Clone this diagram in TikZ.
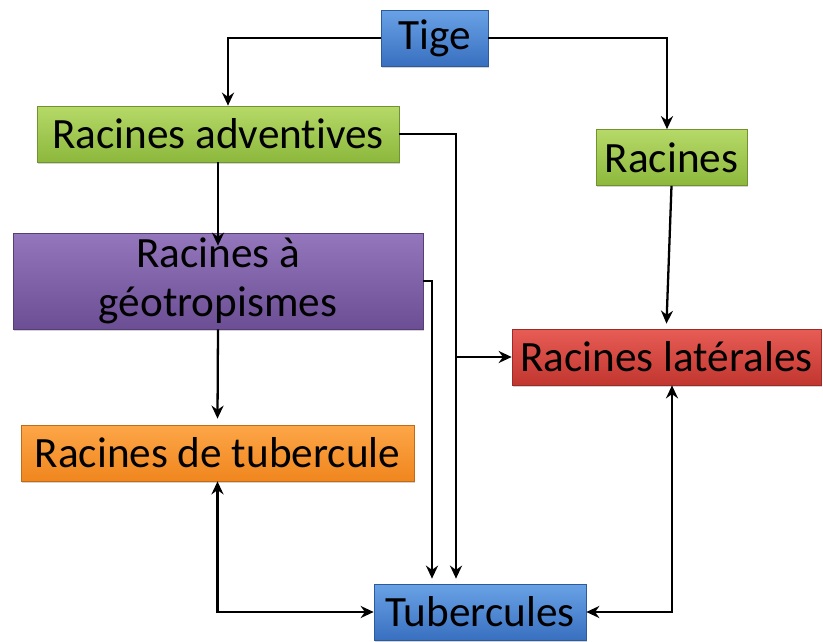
\documentclass[tikz,border=0pt]{standalone}
\usepackage{fontspec}
\setmainfont[Ligatures=NoCommon]{Carlito}
\usepackage{tikz}
\usetikzlibrary{arrows.meta, shadows}
\usepackage{color}

\definecolor{blueTop}{RGB}{106,162,230}
\definecolor{blueBot}{RGB}{56,112,192}
\definecolor{greenTop}{RGB}{182,217,104}
\definecolor{greenBot}{RGB}{140,184,60}
\definecolor{purpleTop}{RGB}{148,118,188}
\definecolor{purpleBot}{RGB}{108,78,148}
\definecolor{redTop}{RGB}{232,92,86}
\definecolor{redBot}{RGB}{194,54,48}
\definecolor{orangeTop}{RGB}{253,166,72}
\definecolor{orangeBot}{RGB}{240,134,30}

\begin{document}
\begin{tikzpicture}[
x=0.02cm, y=-0.02cm,
font=\fontsize{24.6}{28}\selectfont,
box/.style={rectangle, inner sep=0pt, minimum height=1.12cm, align=center, drop shadow={opacity=0.35, shadow xshift=0.6pt, shadow yshift=-1pt}},
bluenode/.style={box, top color=blueTop, bottom color=blueBot, draw=blueBot!80!black},
greennode/.style={box, top color=greenTop, bottom color=greenBot, draw=greenBot!80!black},
purplenode/.style={box, top color=purpleTop, bottom color=purpleBot, draw=purpleBot!80!black},
rednode/.style={box, top color=redTop, bottom color=redBot, draw=redBot!80!black},
orangenode/.style={box, top color=orangeTop, bottom color=orangeBot, draw=orangeBot!80!black},
link/.style={line width=1.3pt, -{Stealth[length=2.6mm, width=2.4mm]}},
link2/.style={line width=1.3pt, {Stealth[length=2.6mm, width=2.4mm]}-{Stealth[length=2.6mm, width=2.4mm]}},
]
\useasboundingbox (0,0) rectangle (823,642);

%Nodes
\node[bluenode, minimum width=2.14cm]    at (434.5,38)   (tige)         {Tige};
\node[greennode, minimum width=7.24cm]   at (218,134)    (adventives)   {Racines adventives};
\node[greennode, minimum width=3.02cm]   at (671.5,157.5) (racines)     {Racines};
\node[purplenode, minimum width=8.2cm, minimum height=1.92cm] at (218,281) (geotrop) {Racines à\\géotropismes};
\node[rednode, minimum width=6.18cm]     at (666.5,357)  (laterales)    {Racines latérales};
\node[orangenode, minimum width=7.86cm]  at (217.5,453)  (tubercule)    {Racines de tubercule};
\node[bluenode, minimum width=4.24cm]    at (480,612)    (tubercules)   {Tubercules};

\coordinate (jonction) at (456,357);

%Lines
\draw[link] (tige.west) -| ([xshift=0.2cm]adventives.north);
\draw[link] (tige.east) -| ([xshift=-0.09cm]racines.north);
\draw[link] (adventives.south) -- ([yshift=-0.26cm]geotrop.north);
\draw[link] (geotrop.south) -- ([yshift=0.12cm]tubercule.north);
\draw[link] (adventives.east) -| ([xshift=-0.48cm, yshift=0.1cm]tubercules.north);
\draw[link] (jonction) -- (laterales.west);
\draw[link] (geotrop.east) -| ([xshift=-0.96cm, yshift=0.1cm]tubercules.north);
\draw[link] (racines.south) -- ([yshift=0.1cm]laterales.north);
\draw[link2] (tubercule.south) |- (tubercules.west);
\draw[link2] ([xshift=0.11cm]laterales.south) |- (tubercules.east);

\end{tikzpicture}
\end{document}
